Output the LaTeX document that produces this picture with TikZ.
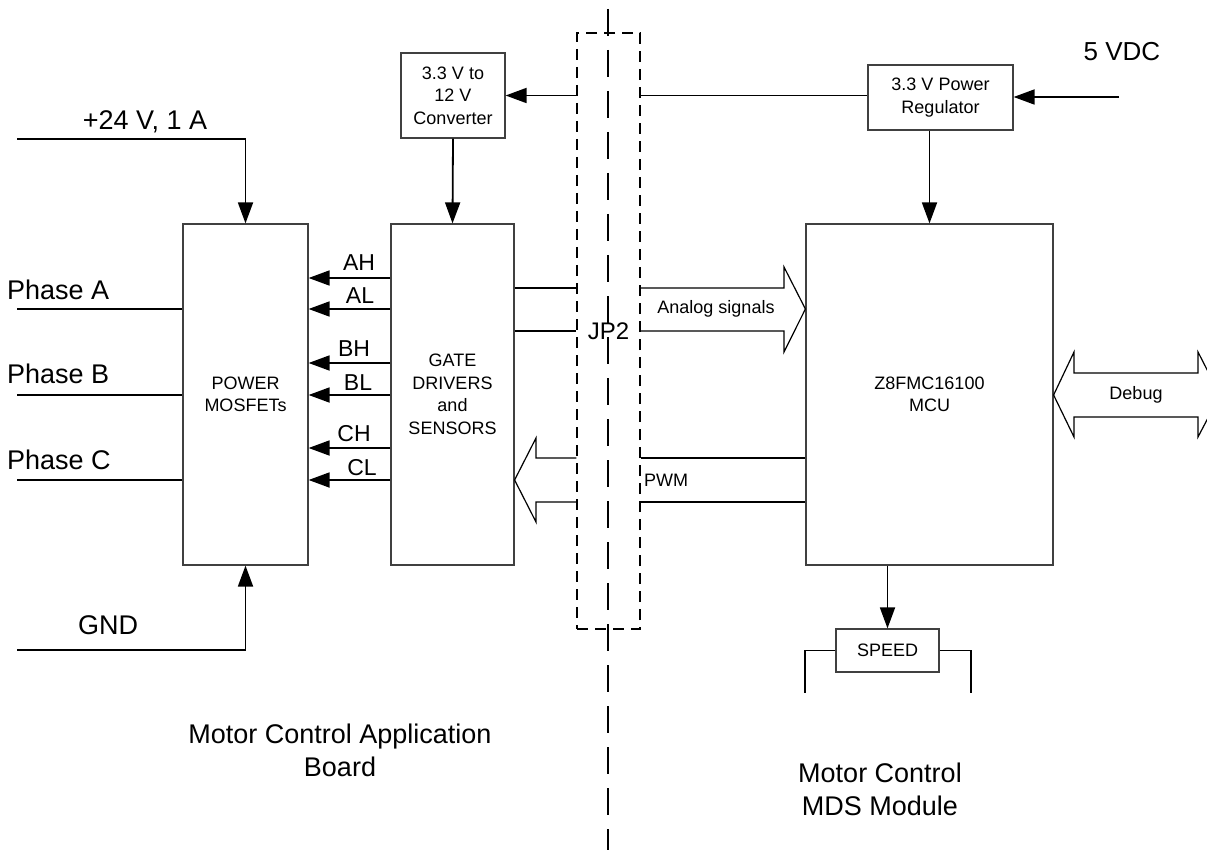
\documentclass[tikz,border=0pt]{standalone}
\usepackage{fontspec}
\setmainfont{Liberation Sans}
\usetikzlibrary{arrows.meta}
\begin{document}
\begin{tikzpicture}[x=1pt,y=-1pt,
  box/.style={draw=black!75, line width=1.2pt, inner sep=0pt, align=center, font=\smallt},
  wire/.style={draw=black, line width=1.8pt},
  arr/.style={wire, -{Triangle[length=21pt,width=15pt]}},
  hollow/.style={draw=black, line width=1.2pt, line join=miter},
  bigt/.style={font=\fontsize{27}{33}\selectfont},
  midt/.style={font=\fontsize{23}{27}\selectfont},
  lbl/.style={inner sep=0pt, align=center}
]
\newcommand{\smallt}{\fontsize{18}{22.5}\selectfont}
\path[use as bounding box] (0,0) rectangle (1207,850);
\clip (0,0) rectangle (1207,850);

% boxes
\node[box, minimum width=125pt, minimum height=341pt] (pm) at (245.5,394.5) {POWER\\MOSFETs};
\node[box, minimum width=123pt, minimum height=341pt] (gd) at (452.5,394.5) {GATE\\DRIVERS\\and\\SENSORS};
\node[box, minimum width=104pt, minimum height=85pt] (conv) at (453,95.5) {3.3 V to\\12 V\\Converter};
\node[box, minimum width=145pt, minimum height=65pt] (reg) at (940.5,97.5) {3.3 V Power\\Regulator};
\node[box, minimum width=247pt, minimum height=341pt] (mcu) at (929.5,394.5) {Z8FMC16100\\MCU};
\node[box, minimum width=103pt, minimum height=43pt] (speed) at (887.5,650.5) {SPEED};
\node[draw=black, line width=1.4pt, dash pattern=on 11pt off 7pt, inner sep=0pt,
      minimum width=63pt, minimum height=596pt, font=\fontsize{24}{28}\selectfont] (jp2) at (608.5,331) {JP2};

% center dashed divider
\coordinate (dtop) at (608,9);
\coordinate (dbot) at (608,852);
\draw[line width=1.4pt, dash pattern=on 27pt off 14pt] (dtop) -- (dbot);

% power inputs
\coordinate (v24) at (17,139);
\coordinate (gnd) at (17,650);
\draw[arr] (v24) -| (pm.north);
\draw[arr] (gnd) -| (pm.south);
\node[lbl, bigt] (v24l) at (145,122) {+24 V, 1 A};
\node[lbl, bigt] (gndl) at (108,625) {GND};

% phases
\foreach \y/\t/\ty in {309/A/290, 395/B/374, 480/C/460}{
  \coordinate (ph\t) at (17,\y);
  \draw[wire] (ph\t) -- (ph\t -| pm.west);
  \node[lbl, bigt, anchor=west] (phl\t) at (7,\ty) {Phase \t};
}

% gate signals
\foreach \y/\t/\lx/\ly in {278/AH/359/263, 309/AL/360/296, 363/BH/354/349, 395/BL/358/383, 448/CH/354/434, 480/CL/362/468}{
  \coordinate (s\t) at (gd.west |- 0,\y);
  \draw[arr] (s\t) -- (s\t -| pm.east);
  \node[lbl, midt] (l\t) at (\lx,\ly) {\t};
}

% converter and regulator supplies
\coordinate (jpl) at (jp2.west |- conv.east);
\coordinate (jpr) at (jp2.east |- conv.east);
\draw[arr] (jpl) -- (conv.east);
\draw[wire] (jpr) -- (jpr -| reg.west);
\draw[arr] (conv.south) -- (gd.north);
\coordinate (v5) at (1119,97);
\draw[arr] (v5) -- (v5 -| reg.east);
\node[lbl, font=\fontsize{26}{30}\selectfont] (v5l) at (1122,52) {5 VDC};
\draw[arr] (mcu.north |- reg.south) -- (mcu.north);

% speed
\draw[arr] (speed.north |- mcu.south) -- (speed.north);
\coordinate (spl) at (805,693);
\coordinate (spr) at (971,693);
\draw[wire] (speed.west) -| (spl);
\draw[wire] (speed.east) -| (spr);

% analog signals
\draw[wire] (gd.east |- 0,288) -- (jp2.west |- 0,288);
\draw[wire] (gd.east |- 0,331) -- (jp2.west |- 0,331);
\draw[hollow] (jp2.east |- 0,288) -- (784,288) -- (784,267) -- (mcu.west |- 0,309) -- (784,352) -- (784,331) -- (jp2.east |- 0,331);
\node[lbl, font=\smallt] (anl) at (716,309) {Analog signals};

% PWM
\draw[wire] (jp2.east |- 0,458) -- (mcu.west |- 0,458);
\draw[wire] (jp2.east |- 0,502) -- (mcu.west |- 0,502);
\draw[hollow] (jp2.west |- 0,458) -- (536,458) -- (536,438) -- (gd.east |- 0,480) -- (536,522) -- (536,502) -- (jp2.west |- 0,502);
\node[lbl, font=\smallt] (pwml) at (666,480) {PWM};

% debug
\draw[hollow] (mcu.east |- 0,395) -- (1074,352) -- (1074,373) -- (1198,373) -- (1198,352) -- (1220,395) -- (1198,437) -- (1198,417) -- (1074,417) -- (1074,437) -- cycle;
\node[lbl, font=\smallt] (dbgl) at (1136,395) {Debug};

% bottom labels
\node[lbl, bigt] (appl) at (340,750) {Motor Control Application\\Board};
\node[lbl, bigt] (mdsl) at (880,789) {Motor Control\\MDS Module};
\end{tikzpicture}
\end{document}
